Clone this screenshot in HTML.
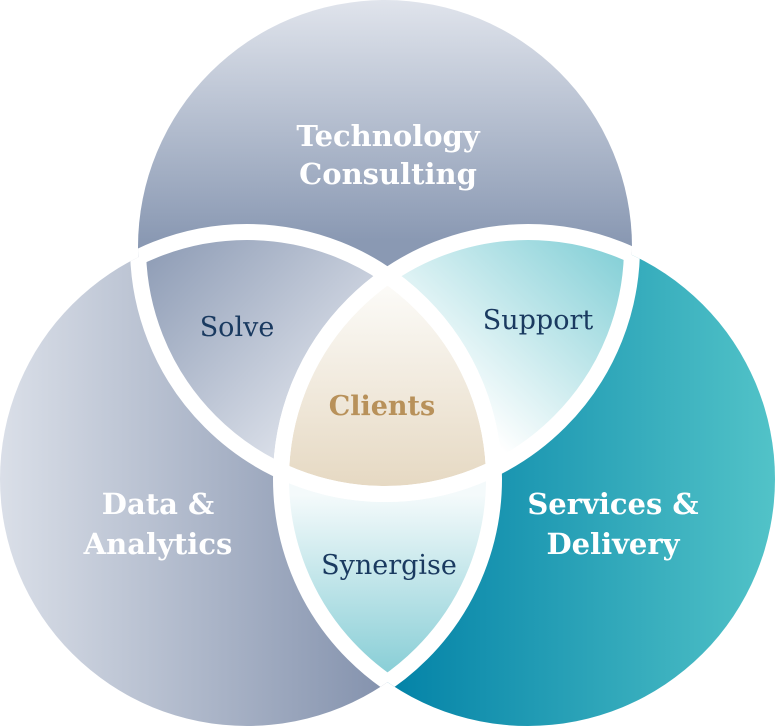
<!DOCTYPE html>
<html><head><meta charset="utf-8"><style>
html,body{margin:0;padding:0;background:#fff;}
svg{display:block;}
text{font-family:"DejaVu Serif","Liberation Serif",serif;text-anchor:middle;}
</style></head><body>
<svg width="775" height="726" viewBox="0 0 775 726" xmlns="http://www.w3.org/2000/svg">
<defs>
<linearGradient id="gT" gradientUnits="userSpaceOnUse" x1="0" y1="0" x2="0" y2="240"><stop offset="0" stop-color="#e0e4ec"/><stop offset="1" stop-color="#8a99b3"/></linearGradient>
<linearGradient id="gL" gradientUnits="userSpaceOnUse" x1="0" y1="0" x2="380" y2="0"><stop offset="0" stop-color="#dadfe8"/><stop offset="1" stop-color="#8593ae"/></linearGradient>
<linearGradient id="gR" gradientUnits="userSpaceOnUse" x1="400" y1="0" x2="775" y2="0"><stop offset="0" stop-color="#0584a8"/><stop offset="1" stop-color="#52c3c8"/></linearGradient>
<linearGradient id="gS" gradientUnits="userSpaceOnUse" x1="150" y1="250" x2="340" y2="430"><stop offset="0" stop-color="#8f9db6"/><stop offset="1" stop-color="#e2e6ee"/></linearGradient>
<linearGradient id="gP" gradientUnits="userSpaceOnUse" x1="620" y1="260" x2="470" y2="420"><stop offset="0" stop-color="#88d1d8"/><stop offset="1" stop-color="#ffffff"/></linearGradient>
<linearGradient id="gC" gradientUnits="userSpaceOnUse" x1="0" y1="285" x2="0" y2="485"><stop offset="0" stop-color="#fcfbf8"/><stop offset="1" stop-color="#e6d9c3"/></linearGradient>
<linearGradient id="gY" gradientUnits="userSpaceOnUse" x1="0" y1="495" x2="0" y2="675"><stop offset="0" stop-color="#f4fafb"/><stop offset="1" stop-color="#88ced6"/></linearGradient>
<clipPath id="cT"><circle cx="385" cy="247" r="247"/></clipPath>
<clipPath id="cL"><circle cx="247" cy="479" r="247"/></clipPath>
<clipPath id="cR"><circle cx="528" cy="479" r="247"/></clipPath>
</defs>
<circle cx="385" cy="247" r="247" fill="url(#gT)"/>
<circle cx="247" cy="479" r="247" fill="url(#gL)"/>
<circle cx="528" cy="479" r="247" fill="url(#gR)"/>
<g clip-path="url(#cT)"><circle cx="247" cy="479" r="247" fill="url(#gS)"/></g>
<g clip-path="url(#cT)"><circle cx="528" cy="479" r="247" fill="url(#gP)"/></g>
<g clip-path="url(#cL)"><circle cx="528" cy="479" r="247" fill="url(#gY)"/></g>
<g clip-path="url(#cT)"><g clip-path="url(#cL)"><circle cx="528" cy="479" r="247" fill="url(#gC)"/></g></g>
<g fill="none" stroke="#fff" stroke-width="16">
<g clip-path="url(#cL)"><circle cx="385" cy="247" r="247"/><circle cx="528" cy="479" r="247"/></g>
<g clip-path="url(#cR)"><circle cx="385" cy="247" r="247"/><circle cx="247" cy="479" r="247"/></g>
<g clip-path="url(#cT)"><circle cx="247" cy="479" r="247"/><circle cx="528" cy="479" r="247"/></g>
</g>
<g font-weight="bold" font-size="29" fill="#fff">
<text x="388" y="146">Technology</text>
<text x="388" y="184">Consulting</text>
<text x="158" y="514">Data &amp;</text>
<text x="158" y="554">Analytics</text>
<text x="613" y="514">Services &amp;</text>
<text x="613" y="554">Delivery</text>
</g>
<g font-size="27" fill="#1a3a60">
<text x="237" y="336">Solve</text>
<text x="538" y="329">Support</text>
<text x="389" y="574">Synergise</text>
</g>
<text x="382" y="415" font-size="27" font-weight="bold" fill="#b8915a">Clients</text>
</svg>
</body></html>
